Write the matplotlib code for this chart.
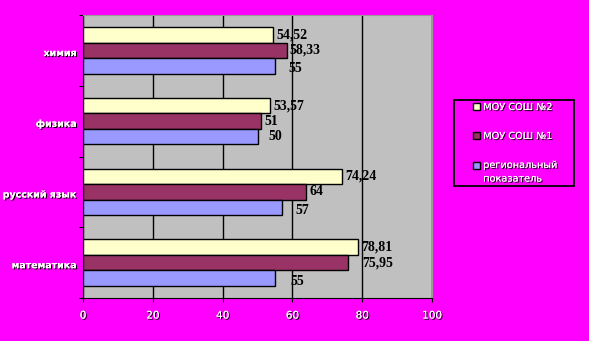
import matplotlib.pyplot as plt
import matplotlib.patheffects as pe
from matplotlib.patches import Rectangle
import numpy as np

# subjects listed bottom to top
subjects = ['математика', 'русский язык', 'физика', 'химия']
school2 = [78.81, 74.24, 53.57, 54.52]
school1 = [75.95, 64, 51, 58.33]
region = [55, 57, 50, 55]

school2_txt = ['78,81', '74,24', '53,57', '54,52']
school1_txt = ['75,95', '64', '51', '58,33']
region_txt = ['55', '57', '50', '55']

series_names = ['МОУ СОШ №2', 'МОУ СОШ №1', 'региональный\nпоказатель']
colors = ['#FFFFCC', '#993366', '#9999FF']

# label offsets in points (dx, dy) for each bar, same order as the values
school2_off = [(2.6, 0), (2.5, 0), (2.5, 0), (2.5, 0)]
school1_off = [(10.3, 0), (2.5, 0), (2.5, 0), (2.2, 0)]
region_off = [(11.3, -2.2), (9.6, -2.4), (8, 0), (9.6, -2)]

bg = '#FF00FF'
shadow = [pe.withSimplePatchShadow(offset=(0.8, -0.8), shadow_rgbFace='black', alpha=1.0), pe.Normal()]

fig = plt.figure(figsize=(5.89, 3.41), dpi=100, facecolor=bg)
ax = fig.add_axes([83 / 589, 43 / 341, 349 / 589, 283 / 341])
ax.set_facecolor('#C0C0C0')

y = np.arange(len(subjects))
h = 0.22
bars2 = ax.barh(y + h, school2, h, color=colors[0], edgecolor='black', linewidth=1, label=series_names[0], zorder=3)
bars1 = ax.barh(y, school1, h, color=colors[1], edgecolor='black', linewidth=1, label=series_names[1], zorder=3)
barsr = ax.barh(y - h, region, h, color=colors[2], edgecolor='black', linewidth=1, label=series_names[2], zorder=3)

lab_font = dict(family='Liberation Serif', fontweight='bold', fontsize=10, color='black', va='center')
for bars, txts, offs in [(bars2, school2_txt, school2_off), (bars1, school1_txt, school1_off),
                         (barsr, region_txt, region_off)]:
    for b, t, d in zip(bars, txts, offs):
        ax.annotate(t, (b.get_width(), b.get_y() + b.get_height() / 2),
                    xytext=d, textcoords='offset points', zorder=4, **lab_font)

ax.set_xlim(0, 100)
ax.set_ylim(-0.5, len(subjects) - 0.5)
ax.set_xticks(np.arange(0, 101, 20))
ax.set_xticklabels([str(v) for v in range(0, 101, 20)])
ax.xaxis.grid(True, color='black', linewidth=1)
ax.set_axisbelow(True)

# major ticks mark the group boundaries, minor ones carry the subject names
ax.set_yticks(np.arange(-0.5, len(subjects), 1), minor=False)
ax.set_yticklabels([])
ax.set_yticks(y - 0.03, minor=True)
ax.set_yticklabels(subjects, minor=True)
ax.tick_params(axis='y', which='minor', length=0, pad=4.5)
ax.tick_params(axis='y', which='major', length=3, color='black', direction='out')
ax.tick_params(axis='x', length=3, color='black', direction='out', pad=6)

for lbl in ax.get_yticklabels(minor=True):
    lbl.set_color('white')
    lbl.set_fontweight('bold')
    lbl.set_fontsize(6.8)
    lbl.set_path_effects(shadow)
for lbl in ax.get_xticklabels():
    lbl.set_color('white')
    lbl.set_fontsize(7.5)
    lbl.set_path_effects(shadow)

ax.spines['left'].set_color('black')
ax.spines['bottom'].set_color('black')
ax.spines['top'].set_color('#999999')
ax.spines['right'].set_color('#999999')

# legend box drawn separately so the padding can be uneven
fig.patches.append(Rectangle((454 / 589, 1 - 186 / 341), 120 / 589, 86 / 341,
                             transform=fig.transFigure, facecolor='none',
                             edgecolor='black', linewidth=1.3))
leg = fig.legend(loc='upper left', bbox_to_anchor=(473 / 589, 1 - 102 / 341), frameon=False,
                 fontsize=7, handlelength=0.75, handleheight=0.75, labelspacing=1.95,
                 borderpad=0, borderaxespad=0, handletextpad=0.3)
for t in leg.get_texts():
    t.set_color('white')
    t.set_linespacing(1.45)
    t.set_path_effects(shadow)
for p in leg.get_patches():
    p.set_linewidth(1)
# the two-line entry keeps its swatch next to the first line
last = leg.get_patches()[-1]
last.set_y(last.get_y() + 5)

fig.savefig('out.png', dpi=100, facecolor=bg)
